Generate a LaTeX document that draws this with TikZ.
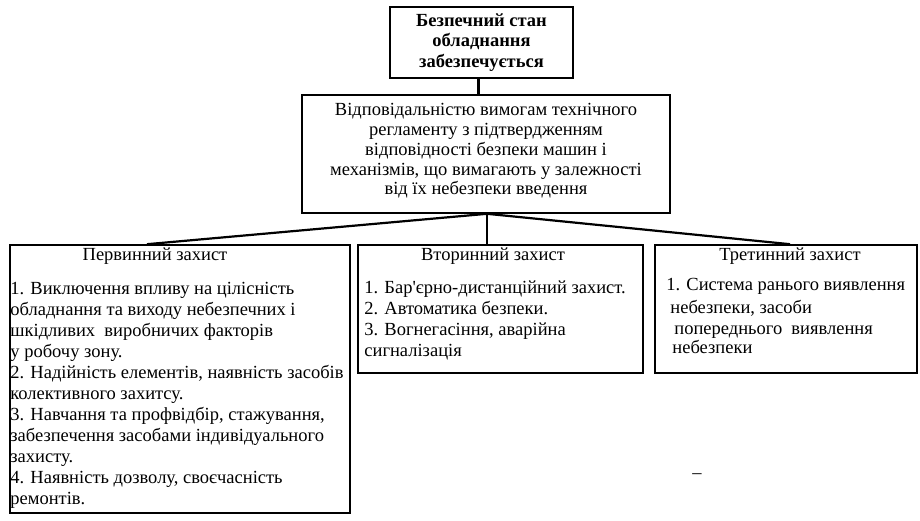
\documentclass[tikz,border=0pt]{standalone}
\usepackage{fontspec}
\setmainfont{Liberation Serif}
\usetikzlibrary{positioning}
\begin{document}
\begin{tikzpicture}[
      x=1pt,y=-1pt,
      box/.style={draw=black,line width=1.6pt,inner sep=0pt},
      link/.style={draw=black,line width=2.2pt},
      txt/.style={font=\fontsize{18.5}{21}\selectfont,inner sep=0pt},
      head/.style={txt,anchor=base},
      list/.style={txt,align=left,anchor=north west},
      ]
      \useasboundingbox (0,0) rectangle (920,521);
      % upper boxes
      \node[box,minimum width=183pt,minimum height=71pt,align=center,
            font=\bfseries\fontsize{18.5}{20.5}\selectfont] (top) at (481.5,42.5)
        {Безпечний стан\\обладнання\\ забезпечується};
      \node[box,minimum width=368pt,minimum height=118pt] (req) at (486,154) {};
      \node[txt,align=center,font=\fontsize{18.5}{19.8}\selectfont]
        (reqtext) at ([yshift=3pt]req.center)
        {Відповідальністю вимогам технічного\\регламенту з підтвердженням\\
         відповідності безпеки машин і\\механізмів, що вимагають у залежності\\
         від їх небезпеки введення};
      % lower boxes
      \node[box,minimum width=340pt,minimum height=268pt] (first) at (180,379) {};
      \node[box,minimum width=285pt,minimum height=128pt] (second) at (500.5,309) {};
      \node[box,minimum width=262pt,minimum height=128pt] (third) at (786,309) {};
      % headings
      \node[head] (firsthead) at (155,261) {Первинний захист};
      \node[head] (secondhead) at (493,261) {Вторинний захист};
      \node[head] (thirdhead) at (790,261) {Третинний захист};
      % lists
      \node[list] (firstlist) at ([shift={(1,37.5)}]first.north west)
        {1. Виключення впливу на цілісність\\
         обладнання та виходу небезпечних і\\
         шкідливих\ \ виробничих факторів\\
         у робочу зону.\\
         2. Надійність елементів, наявність засобів\\
         колективного захитсу.\\
         3. Навчання та профвідбір, стажування,\\
         забезпечення засобами індивідуального\\
         захисту.\\
         4. Наявність дозволу, своєчасність\\
         ремонтів.};
      \node[list] (secondlist) at ([shift={(7,36)}]second.north west)
        {1. Бар\textquotesingle єрно-дистанційний захист.\\
         2. Автоматика безпеки.\\
         3. Вогнегасіння, аварійна\\
         сигналізація};
      \node[list] (thirdlist) at ([shift={(12,34)}]third.north west)
        {1. Система ранього виявлення\\[2pt]
         \hspace*{4pt}небезпеки, засоби\\
         \hspace*{8pt}попереднього\ \ виявлення\\[-2pt]
         \hspace*{6pt}небезпеки};
      \node[txt] (mark) at (697,476) {–};
      % connectors
      \draw[link] ([xshift=-3pt]top.south) -- ([xshift=-3pt]top.south |- req.north);
      \draw[link] ([xshift=1pt]req.south) -- ([xshift=-33pt]first.north);
      \draw[link] ([xshift=1pt]req.south) -- ([xshift=1pt]req.south |- second.north);
      \draw[link] ([xshift=1pt]req.south) -- ([xshift=4pt]third.north);
\end{tikzpicture}
\end{document}
